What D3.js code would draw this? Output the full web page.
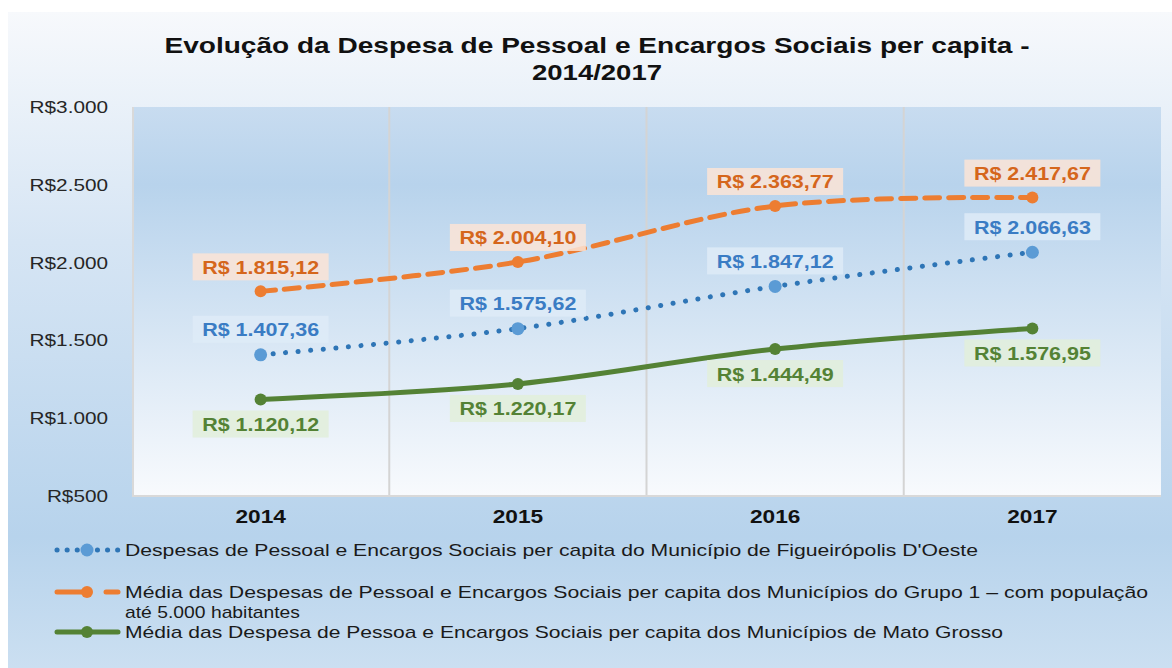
<!DOCTYPE html>
<meta charset="utf-8">
<script src="https://d3js.org/d3.v7.min.js"></script>
<style>
  body { margin: 0; background: #fff; }
  text { font-family: "Liberation Sans", Arial, sans-serif; }
</style>
<body>
<div id="chart"></div>
<script>
// data
var years = ["2014", "2015", "2016", "2017"];
var figueiropolis = [1407.36, 1575.62, 1847.12, 2066.63];
var grupo1 = [1815.12, 2004.10, 2363.77, 2417.67];
var matoGrosso = [1120.12, 1220.17, 1444.49, 1576.95];
var yTicks = [500, 1000, 1500, 2000, 2500, 3000];
var legendLabels = [
  ["Despesas de Pessoal e Encargos Sociais  per capita do Município de Figueirópolis D'Oeste"],
  ["Média das Despesas de Pessoal e Encargos Sociais  per capita dos Municípios do Grupo 1 – com população", "até 5.000 habitantes"],
  ["Média das Despesa de Pessoa e Encargos Sociais per capita dos Municípios de Mato Grosso"]
];

var W = 1172, H = 668;
var margin = {top: 107, right: 11, bottom: 172, left: 132};
var width = W - margin.left - margin.right,
    height = H - margin.top - margin.bottom;

var fmt = function(v) {
  var s = v.toFixed(2).split(".");
  return "R$ " + s[0].replace(/\B(?=(\d{3})+(?!\d))/g, ".") + "," + s[1];
};

// the original picture is a bit wider than tall, so text is stretched sideways
function stretch(sel, f) {
  sel.each(function() {
    var w = this.getComputedTextLength();
    d3.select(this).attr("textLength", w * f).attr("lengthAdjust", "spacingAndGlyphs");
  });
}

var svg = d3.select("#chart").append("svg")
  .attr("width", W).attr("height", H);

var defs = svg.append("defs");
var outer = defs.append("linearGradient").attr("id", "outerBg")
  .attr("x1", 0).attr("y1", 0).attr("x2", 0).attr("y2", 1);
outer.append("stop").attr("offset", "0").attr("stop-color", "#f7f9fc");
outer.append("stop").attr("offset", "0.35").attr("stop-color", "#d6e5f4");
outer.append("stop").attr("offset", "0.8").attr("stop-color", "#b7d3ec");
outer.append("stop").attr("offset", "1").attr("stop-color", "#cbdff1");

var inner = defs.append("linearGradient").attr("id", "plotBg")
  .attr("x1", 0).attr("y1", 0).attr("x2", 0).attr("y2", 1);
inner.append("stop").attr("offset", "0").attr("stop-color", "#c8dcf0");
inner.append("stop").attr("offset", "0.2").attr("stop-color", "#b8d3ec");
inner.append("stop").attr("offset", "1").attr("stop-color", "#f8fafd");

svg.append("rect")
  .attr("x", 8).attr("y", 12)
  .attr("width", W - 8).attr("height", H - 12)
  .attr("fill", "url(#outerBg)");

// title
var title = svg.append("text")
  .attr("x", 597).attr("text-anchor", "middle")
  .style("font-size", "22px").style("font-weight", "bold").attr("fill", "#111");
title.append("tspan").attr("x", 597).attr("y", 53)
  .attr("textLength", 865).attr("lengthAdjust", "spacingAndGlyphs")
  .text("Evolução da Despesa de Pessoal e Encargos Sociais per capita -");
title.append("tspan").attr("x", 597).attr("y", 80)
  .attr("textLength", 130).attr("lengthAdjust", "spacingAndGlyphs")
  .text("2014/2017");

var g = svg.append("g")
  .attr("transform", "translate(" + margin.left + "," + margin.top + ")");

g.append("rect")
  .attr("width", width).attr("height", height)
  .attr("fill", "url(#plotBg)");

var x = d3.scaleBand().domain(years).range([0, width]);
var y = d3.scaleLinear().domain([500, 3000]).range([height, 0]);
var cx = function(i) { return x(years[i]) + x.bandwidth() / 2; };

// vertical gridlines between categories
g.selectAll(".vgrid")
  .data(years.slice(1))
  .enter().append("line")
  .attr("x1", function(d) { return x(d); })
  .attr("x2", function(d) { return x(d); })
  .attr("y1", 0).attr("y2", height)
  .attr("stroke", "#d4d4d4").attr("stroke-width", 2);

// plot frame left + bottom
g.append("path")
  .attr("d", "M1,0V" + height + "H" + width)
  .attr("fill", "none").attr("stroke", "#d9d9d9").attr("stroke-width", 2);

// y axis
var yAxis = g.append("g")
  .call(d3.axisLeft(y).tickValues(yTicks).tickSize(0).tickPadding(24)
    .tickFormat(function(d) { return "R$" + d3.format(",")(d).replace(/,/g, "."); }));
yAxis.select(".domain").remove();
yAxis.selectAll("text").style("font-size", "17px").attr("fill", "#262626")
  .call(stretch, 1.22);

// x axis
var xAxis = g.append("g")
  .attr("transform", "translate(0," + height + ")")
  .call(d3.axisBottom(x).tickSize(0).tickPadding(14));
xAxis.select(".domain").remove();
xAxis.selectAll("text").style("font-size", "18px").style("font-weight", "bold").attr("fill", "#111")
  .call(stretch, 1.26);

var series = [
  {values: figueiropolis, line: "#2e75b6", marker: "#5b9bd5", dash: "0.1 12.5", width: 5, r: 6.5,
   boxFill: "#deebf7", text: "#3a7cc4", dy: -25},
  {values: grupo1, line: "#ed7d31", marker: "#ed7d31", dash: "15 9", width: 5, r: 6,
   boxFill: "#fce4d6", text: "#d5661c", dy: -24},
  {values: matoGrosso, line: "#548235", marker: "#548235", dash: null, width: 5, r: 6,
   boxFill: "#e2efda", text: "#548235", dy: 25}
];

var lineGen = d3.line()
  .x(function(d, i) { return cx(i); })
  .y(function(d) { return y(d); })
  .curve(d3.curveCatmullRom.alpha(0.5));

series.forEach(function(s) {
  g.append("path")
    .datum(s.values)
    .attr("d", lineGen)
    .attr("fill", "none")
    .attr("stroke", s.line)
    .attr("stroke-width", s.width)
    .attr("stroke-linecap", "round")
    .attr("stroke-dasharray", s.dash);

  g.selectAll(null)
    .data(s.values)
    .enter().append("circle")
    .attr("cx", function(d, i) { return cx(i); })
    .attr("cy", function(d) { return y(d); })
    .attr("r", s.r)
    .attr("fill", s.marker);
});

// data labels
series.forEach(function(s) {
  var lab = g.selectAll(null)
    .data(s.values)
    .enter().append("g")
    .attr("transform", function(d, i) {
      return "translate(" + cx(i) + "," + (y(d) + s.dy) + ")";
    });
  lab.append("rect")
    .attr("x", -68).attr("y", -14)
    .attr("width", 136).attr("height", 27)
    .attr("fill", s.boxFill).attr("fill-opacity", 0.85);
  lab.append("text")
    .attr("text-anchor", "middle")
    .attr("dy", "0.36em")
    .attr("textLength", 117).attr("lengthAdjust", "spacingAndGlyphs")
    .style("font-size", "18px").style("font-weight", "bold")
    .attr("fill", s.text)
    .text(function(d) { return fmt(d); });
});

// legend
var legendY = [550, 592, 632];
var legendW = [[853], [1023, 175], [878]];
var legend = svg.append("g");
series.forEach(function(s, k) {
  var ly = legendY[k];
  if (k === 1) {
    legend.append("line")
      .attr("x1", 57).attr("x2", 86).attr("y1", ly).attr("y2", ly)
      .attr("stroke", s.line).attr("stroke-width", 5).attr("stroke-linecap", "round");
    legend.append("line")
      .attr("x1", 106).attr("x2", 118).attr("y1", ly).attr("y2", ly)
      .attr("stroke", s.line).attr("stroke-width", 5).attr("stroke-linecap", "round");
  } else {
    legend.append("line")
      .attr("x1", 57).attr("x2", 118).attr("y1", ly).attr("y2", ly)
      .attr("stroke", s.line).attr("stroke-width", 5)
      .attr("stroke-linecap", "round")
      .attr("stroke-dasharray", k === 0 ? "0.1 10" : null);
  }
  legend.append("circle")
    .attr("cx", 87).attr("cy", ly).attr("r", s.r)
    .attr("fill", s.marker);
  legendLabels[k].forEach(function(t, j) {
    legend.append("text")
      .attr("x", 125).attr("y", ly + j * 20)
      .attr("dy", "0.35em")
      .attr("textLength", legendW[k][j])
      .attr("lengthAdjust", "spacingAndGlyphs")
      .style("font-size", "17px").attr("fill", "#1a1a1a")
      .text(t);
  });
});
</script>
</body>
